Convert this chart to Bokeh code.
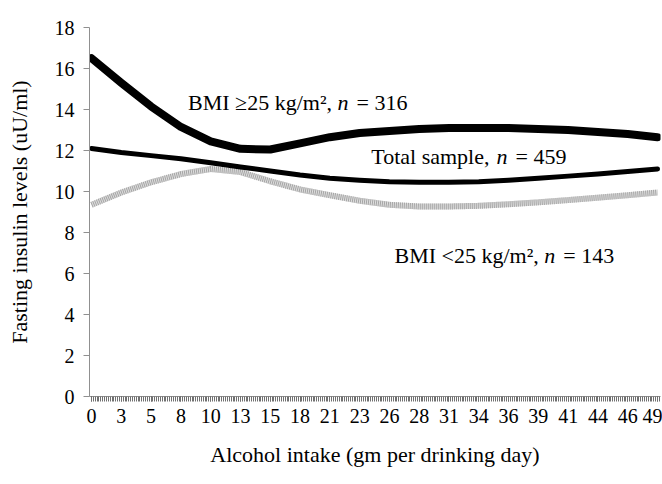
from bokeh.plotting import figure
from bokeh.models import Label, FixedTicker, Range1d
from bokeh.embed import file_html
from bokeh.resources import INLINE

# Category labels along the x axis (alcohol intake, gm per drinking day)
x_labels = ["0", "3", "5", "8", "10", "13", "15", "18", "21", "23",
            "26", "28", "31", "34", "36", "39", "41", "44", "46", "49"]
xi = list(range(len(x_labels)))

# Fasting insulin levels (uU/ml) read at each labelled category
bmi_high = [16.5, 15.3, 14.15, 13.15, 12.45, 12.08, 12.05, 12.35, 12.65, 12.85,
            12.95, 13.05, 13.1, 13.1, 13.1, 13.05, 13.0, 12.9, 12.8, 12.65]
total = [12.1, 11.9, 11.75, 11.6, 11.4, 11.2, 11.0, 10.8, 10.65, 10.55,
         10.48, 10.45, 10.45, 10.48, 10.55, 10.65, 10.75, 10.85, 10.98, 11.1]
bmi_low = [9.35, 9.95, 10.45, 10.85, 11.1, 10.95, 10.5, 10.1, 9.82, 9.55,
           9.35, 9.27, 9.27, 9.3, 9.38, 9.47, 9.58, 9.7, 9.82, 9.95]

y_ticks = [0, 2, 4, 6, 8, 10, 12, 14, 16, 18]

FONT = "Liberation Serif"

p = figure(width=662, height=484, output_backend="svg", toolbar_location=None,
           x_range=Range1d(-0.068, 19.10), y_range=Range1d(0, 18),
           min_border_left=89, min_border_right=2, min_border_top=27,
           min_border_bottom=88)
p.outline_line_color = None
p.xgrid.grid_line_color = None
p.ygrid.grid_line_color = None

# x axis
p.xaxis.ticker = FixedTicker(ticks=xi,
                             minor_ticks=[i / 16 for i in range(0, 19 * 16 + 2)])
p.xaxis.major_label_overrides = {i: lab for i, lab in enumerate(x_labels)}
p.xaxis.axis_line_color = "#909090"
p.xaxis.major_tick_line_color = "#555555"
p.xaxis.minor_tick_line_color = "#707070"
p.xaxis.major_tick_in = 0
p.xaxis.major_tick_out = 5
p.xaxis.minor_tick_in = 0
p.xaxis.minor_tick_out = 5
p.xaxis.major_label_text_font = FONT
p.xaxis.major_label_text_font_size = "20px"
p.xaxis.major_label_text_color = "black"
p.xaxis.major_label_standoff = 7
p.xaxis.axis_label = "Alcohol intake (gm per drinking day)"
p.xaxis.axis_label_text_font = FONT
p.xaxis.axis_label_text_font_size = "22px"
p.xaxis.axis_label_text_font_style = "normal"
p.xaxis.axis_label_text_color = "black"
p.xaxis.axis_label_standoff = 16

# y axis
p.yaxis.ticker = FixedTicker(ticks=y_ticks, minor_ticks=[])
p.yaxis.axis_line_color = "#909090"
p.yaxis.major_tick_line_color = "#909090"
p.yaxis.major_tick_in = 0
p.yaxis.major_tick_out = 6
p.yaxis.major_label_text_font = FONT
p.yaxis.major_label_text_font_size = "20px"
p.yaxis.major_label_text_color = "black"
p.yaxis.major_label_standoff = 9
p.yaxis.axis_label = "Fasting insulin levels (uU/ml)"
p.yaxis.axis_label_text_font = FONT
p.yaxis.axis_label_text_font_size = "22px"
p.yaxis.axis_label_text_font_style = "normal"
p.yaxis.axis_label_text_color = "black"
p.yaxis.axis_label_standoff = 20

# series
p.line(xi, bmi_low, line_width=6, line_color="#dedede")
p.line(xi, bmi_low, line_width=6, line_color="#a4a4a4", line_dash="1 1")
p.line(xi, total, line_width=5, line_color="black", line_join="round", line_cap="round")
p.line(xi, bmi_high, line_width=8, line_color="black", line_join="round", line_cap="round")

# annotations (normal / italic n / normal)
def annot(x, y, pre, post, w_pre):
    common = dict(x=x, y=y, text_font=FONT, text_font_size="22px",
                  text_baseline="alphabetic", text_color="black")
    p.add_layout(Label(text=pre, **common))
    p.add_layout(Label(text="n", x_offset=w_pre, text_font_style="italic", **common))
    p.add_layout(Label(text=post, x_offset=w_pre + 19, **common))

annot(3.24, 14.34, "BMI \u226525 kg/m\u00b2,", "= 316", 149.5)
annot(9.39, 11.71, "Total sample,", "= 459", 125.3)
annot(10.17, 6.88, "BMI <25 kg/m\u00b2,", "= 143", 149.8)

open("out.html", "w").write(file_html(p, INLINE))
